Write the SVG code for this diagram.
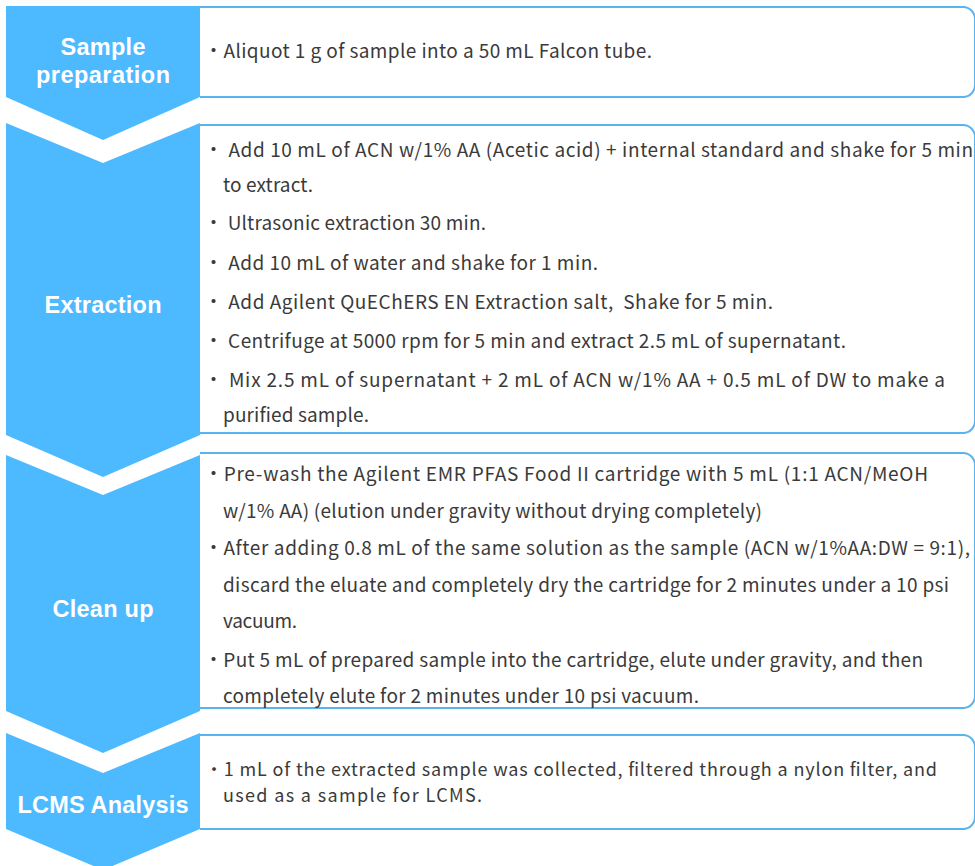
<svg xmlns="http://www.w3.org/2000/svg" width="975" height="866" viewBox="0 0 975 866">
<style>
.chev{fill:#4DB9FF;}
.box{fill:#FFFFFF;stroke:#58B3EE;stroke-width:2;}
.lbl{font-family:"Liberation Sans",Arial,sans-serif;font-weight:bold;font-size:23.5px;fill:#FFFFFF;text-anchor:middle;}
.t{font-family:"Noto Sans CJK JP","Noto Sans",sans-serif;font-size:19px;fill:#3A3A3A;}
.s{font-size:18px;}
</style>
<rect width="975" height="866" fill="#FFFFFF"/>
<g id="connectors"></g>
<g id="step1">
<path class="chev" d="M6,6 H200 V97 L103,140 L6,97 Z"/>
<path class="box" d="M200,7 H963 A12,12 0 0 1 975,19 V85 A12,12 0 0 1 963,97 H200"/>
<text class="lbl" x="103" y="55" textLength="85">Sample</text>
<text class="lbl" x="103" y="83" textLength="134">preparation</text>
<text class="t" x="204" y="58" textLength="448">・Aliquot 1 g of sample into a 50 mL Falcon tube.</text>
</g>
<g id="step2">
<path class="chev" d="M6,123 L103,163 L200,123 V435 L103,477 L6,435 Z"/>
<path class="box" d="M200,125 H963 A12,12 0 0 1 975,137 V421 A12,12 0 0 1 963,433 H200"/>
<text class="lbl" x="103" y="313" textLength="117">Extraction</text>
<text class="t" x="204" y="157" textLength="769">・ Add 10 mL of ACN w/1% AA (Acetic acid) + internal standard and shake for 5 min</text>
<text class="t" x="223" y="192" textLength="90">to extract.</text>
<text class="t" x="204" y="230" textLength="282">・ Ultrasonic extraction 30 min.</text>
<text class="t" x="204" y="270" textLength="394">・ Add 10 mL of water and shake for 1 min.</text>
<text class="t" x="204" y="309" textLength="569">・ Add Agilent QuEChERS EN Extraction salt,&#160; Shake for 5 min.</text>
<text class="t" x="204" y="348" textLength="642">・ Centrifuge at 5000 rpm for 5 min and extract 2.5 mL of supernatant.</text>
<text class="t" x="204" y="387" textLength="741">・ Mix 2.5 mL of supernatant + 2 mL of ACN w/1% AA + 0.5 mL of DW to make a</text>
<text class="t" x="223" y="422" textLength="146">purified sample.</text>
</g>
<g id="step3">
<path class="chev" d="M6,455 L103,495 L200,455 V711 L103,753 L6,711 Z"/>
<path class="box" d="M200,453 H963 A12,12 0 0 1 975,465 V696 A12,12 0 0 1 963,708 H200"/>
<text class="lbl" x="103" y="617" textLength="101">Clean up</text>
<text class="t" x="204" y="481" textLength="724">・Pre-wash the Agilent EMR PFAS Food II cartridge with 5 mL (1:1 ACN/MeOH</text>
<text class="t" x="223" y="518" textLength="539">w/1% AA) (elution under gravity without drying completely)</text>
<text class="t" x="204" y="555" textLength="766">・After adding 0.8 mL of the same solution as the sample (ACN w/1%AA:DW = 9:1),</text>
<text class="t" x="223" y="592" textLength="726">discard the eluate and completely dry the cartridge for 2 minutes under a 10 psi</text>
<text class="t" x="223" y="628" textLength="74">vacuum.</text>
<text class="t" x="204" y="667" textLength="719">・Put 5 mL of prepared sample into the cartridge, elute under gravity, and then</text>
<text class="t" x="223" y="703" textLength="476">completely elute for 2 minutes under 10 psi vacuum.</text>
</g>
<g id="step4">
<path class="chev" d="M6,733 L103,773 L200,733 V829 L103,870 L6,829 Z"/>
<path class="box" d="M200,735 H963 A12,12 0 0 1 975,747 V817 A12,12 0 0 1 963,829 H200"/>
<text class="lbl" x="103" y="813" textLength="171">LCMS Analysis</text>
<text class="t s" x="205" y="776" textLength="732">・1 mL of the extracted sample was collected, filtered through a nylon filter, and</text>
<text class="t s" x="223" y="802" textLength="259">used as a sample for LCMS.</text>
</g>
</svg>
